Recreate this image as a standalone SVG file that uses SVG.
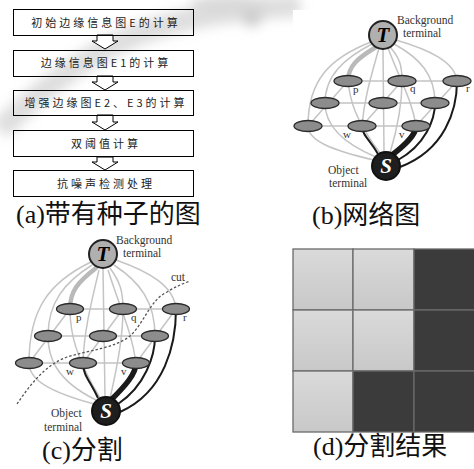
<svg xmlns="http://www.w3.org/2000/svg" width="474" height="469" viewBox="0 0 474 469">
<style>
.box{fill:none;stroke:#000;stroke-width:1}
.ft{font-family:"Noto Sans CJK SC","Liberation Serif",serif;font-size:11px;letter-spacing:3px;fill:#222;text-anchor:middle}
.harrow{fill:#fff;stroke:#000;stroke-width:1}
.cap{font-family:"Liberation Serif","Noto Sans CJK SC",serif;font-size:26px;fill:#111}
.g{fill:none;stroke:#c4c4c4;stroke-width:1.5}
.gt{fill:none;stroke:#b9b9b9;stroke-width:4.5;stroke-linecap:round}
.k{fill:none;stroke:#1a1a1a;stroke-width:2}
.kt{fill:none;stroke:#1a1a1a;stroke-width:5.5}
.nd{fill:#8c8c8c;stroke:#2a2a2a;stroke-width:1.3}
.tt{fill:#b0b0b0;stroke:#222;stroke-width:2}
.ss{fill:#1e1e1e;stroke:#111;stroke-width:2}
.lbl{font-family:"Liberation Serif",serif;font-size:11.5px;fill:#333}
.sl{font-family:"Liberation Serif",serif;font-size:11px;fill:#333}
.term{font-family:"Liberation Serif",serif;font-size:21px;font-weight:bold;font-style:italic;text-anchor:middle}
.lt{fill:url(#lg);stroke:#6a6a6a;stroke-width:1.3}
.dk{fill:#3b3b3b;stroke:#6a6a6a;stroke-width:1.3}
</style>
<defs>
<linearGradient id="lg" x1="0" y1="0" x2="0" y2="1"><stop offset="0" stop-color="#dadada"/><stop offset="1" stop-color="#c8c8c8"/></linearGradient>
<filter id="blur" x="-20%" y="-50%" width="140%" height="200%"><feGaussianBlur stdDeviation="6"/></filter>
</defs>
<rect width="474" height="469" fill="#fff"/>
<!-- faint watermark -->
<g id="watermark" filter="url(#blur)" opacity="0.5">
<path d="M0,130 C40,90 90,50 150,30 C200,14 250,8 300,6" fill="none" stroke="#bdbdbd" stroke-width="22"/>
<ellipse cx="252" cy="18" rx="10" ry="9" fill="#9a9a9a"/>
<ellipse cx="230" cy="4" rx="40" ry="8" fill="#b0b0b0"/>
</g>
<rect x="293" y="10" width="181" height="190" fill="#fff"/>

<!-- (a) flowchart -->
<g id="flow-arrows">
<polygon class="harrow" points="97,35 97,41 92,41 105,49 118,41 113,41 113,35"/>
<polygon class="harrow" points="97,76 97,82 92,82 105,90 118,82 113,82 113,76"/>
<polygon class="harrow" points="97,115 97,122 92,122 105,130 118,122 113,122 113,115"/>
<polygon class="harrow" points="97,157 97,162 92,162 105,170 118,162 113,162 113,157"/>
</g>
<g id="box1"><rect class="box" x="13.5" y="9.5" width="180" height="26"/><text class="ft" x="106" y="27">初始边缘信息图E的计算</text></g>
<g id="box2"><rect class="box" x="13.5" y="50.5" width="180" height="26"/><text class="ft" x="106" y="67">边缘信息图E1的计算</text></g>
<g id="box3"><rect class="box" x="13.5" y="90.5" width="180" height="25"/><text class="ft" x="106" y="107">增强边缘图E2、E3的计算</text></g>
<g id="box4"><rect class="box" x="13.5" y="130.5" width="180" height="26"/><text class="ft" x="106" y="148">双阈值计算</text></g>
<g id="box5"><rect class="box" x="13.5" y="170.5" width="180" height="26"/><text class="ft" x="106" y="188">抗噪声检测处理</text></g>
<text class="cap" x="16" y="223">(a)带有种子的图</text>

<!-- (b) graph -->
<g id="b-connectors">
<path class="g" d="M348,81 L457,81 M325,103 L435,103 M308,126 L416,126 M348,81 L308,126 M402,81 L362,126 M457,81 L416,126"/>
<path class="g" d="M371,42 C330,58 308,80 308,126"/>
<path class="g" d="M372,44 C345,58 325,75 325,103"/>
<path class="g" d="M379,48 C370,80 364,100 362,126"/>
<path class="g" d="M383,49 L384,152"/>
<path class="g" d="M390,47 C400,58 402,66 402,81"/>
<path class="g" d="M388,48 C400,80 412,100 416,126"/>
<path class="g" d="M394,44 C420,58 435,75 435,103"/>
<path class="g" d="M396,40 C430,50 455,62 457,81"/>
<path class="gt" d="M376,47 C358,58 348,66 348,81"/>
<path class="g" d="M374,160 C330,150 308,140 308,126"/>
<path class="g" d="M376,157 C335,140 325,120 325,103"/>
<path class="g" d="M380,153 C355,120 350,100 348,81"/>
<path class="g" d="M390,153 C400,120 402,100 402,81"/>
<path class="k" d="M378,154 C370,140 362,135 362,126"/>
<path class="kt" d="M392,155 C405,145 416,135 416,126"/>
<path class="k" d="M398,160 C425,145 435,120 435,103"/>
<path class="k" d="M400,167 C445,150 457,110 457,81"/>
</g>
<g id="b-T"><circle class="tt" cx="383" cy="35" r="14"/><text class="term" x="383" y="42">T</text></g>
<g id="b-S"><circle class="ss" cx="386" cy="166" r="14"/><text class="term" x="386" y="173" fill="#fff">S</text></g>
<g id="b-p"><ellipse class="nd" cx="348" cy="81" rx="14" ry="5.5"/></g>
<g id="b-q"><ellipse class="nd" cx="402" cy="81" rx="14" ry="5.5"/></g>
<g id="b-r"><ellipse class="nd" cx="457" cy="81" rx="14" ry="5.5"/></g>
<g id="b-n21"><ellipse class="nd" cx="325" cy="103" rx="14" ry="5.5"/></g>
<g id="b-n22"><ellipse class="nd" cx="383" cy="103" rx="14" ry="5.5"/></g>
<g id="b-n23"><ellipse class="nd" cx="435" cy="103" rx="14" ry="5.5"/></g>
<g id="b-n31"><ellipse class="nd" cx="308" cy="126" rx="14" ry="5.5"/></g>
<g id="b-w"><ellipse class="nd" cx="362" cy="126" rx="14" ry="5.5"/></g>
<g id="b-v"><ellipse class="nd" cx="416" cy="126" rx="14" ry="5.5"/></g>
<g id="b-labels">
<text class="lbl" x="397" y="24">Background</text>
<text class="lbl" x="403" y="37">terminal</text>
<text class="lbl" x="328" y="174">Object</text>
<text class="lbl" x="329" y="187">terminal</text>
<text class="sl" x="353" y="93">p</text>
<text class="sl" x="410" y="92">q</text>
<text class="sl" x="466" y="92">r</text>
<text class="sl" x="343" y="138">w</text>
<text class="sl" x="399" y="138">v</text>
</g>
<text class="cap" x="312" y="224">(b)网络图</text>

<!-- (c) segmentation -->
<g id="c-connectors">
<path class="g" d="M70,309 L176,309 M48,336 L155,336 M29,363 L136,363 M70,309 L29,363 M123,309 L83,363 M176,309 L136,363"/>
<path class="g" d="M91,262 C50,282 29,308 29,363"/>
<path class="g" d="M92,265 C65,282 48,302 48,336"/>
<path class="g" d="M99,270 C90,308 84,332 83,363"/>
<path class="g" d="M103,268 L105,397"/>
<path class="g" d="M110,268 C120,282 123,291 123,309"/>
<path class="g" d="M108,270 C120,308 132,332 136,363"/>
<path class="g" d="M114,265 C140,282 155,302 155,336"/>
<path class="g" d="M116,260 C150,272 174,286 176,309"/>
<path class="gt" d="M96,268 C78,282 70,291 70,309"/>
<path class="g" d="M94,404 C50,392 29,380 29,363"/>
<path class="g" d="M96,400 C55,380 48,356 48,336"/>
<path class="g" d="M100,398 C75,356 70,332 70,309"/>
<path class="g" d="M110,398 C120,356 123,332 123,309"/>
<path class="k" d="M98,398 C90,381 83,375 83,363"/>
<path class="kt" d="M112,399 C125,386 136,374 136,363"/>
<path class="k" d="M118,404 C145,386 155,356 155,336"/>
<path class="k" d="M120,412 C165,392 176,344 176,309"/>
<path d="M17,404 C30,385 45,365 67,357 C90,350 115,348 130,336 C145,322 150,300 167,292 C175,287 182,284 190,281" fill="none" stroke="#555" stroke-width="1.3" stroke-dasharray="2.5,2"/>
</g>
<g id="c-T"><circle class="tt" cx="103" cy="254" r="14"/><text class="term" x="103" y="261">T</text></g>
<g id="c-S"><circle class="ss" cx="106" cy="411" r="14"/><text class="term" x="106" y="418" fill="#fff">S</text></g>
<g id="c-p"><ellipse class="nd" cx="70" cy="309" rx="13.5" ry="5.5"/></g>
<g id="c-q"><ellipse class="nd" cx="123" cy="309" rx="13.5" ry="5.5"/></g>
<g id="c-r"><ellipse class="nd" cx="176" cy="309" rx="13.5" ry="5.5"/></g>
<g id="c-n21"><ellipse class="nd" cx="48" cy="336" rx="13.5" ry="5.5"/></g>
<g id="c-n22"><ellipse class="nd" cx="103" cy="336" rx="13.5" ry="5.5"/></g>
<g id="c-n23"><ellipse class="nd" cx="155" cy="336" rx="13.5" ry="5.5"/></g>
<g id="c-n31"><ellipse class="nd" cx="29" cy="363" rx="13.5" ry="5.5"/></g>
<g id="c-w"><ellipse class="nd" cx="83" cy="363" rx="13.5" ry="5.5"/></g>
<g id="c-v"><ellipse class="nd" cx="136" cy="363" rx="13.5" ry="5.5"/></g>
<g id="c-labels">
<text class="lbl" x="116" y="244">Background</text>
<text class="lbl" x="123" y="257">terminal</text>
<text class="lbl" x="171" y="281">cut</text>
<text class="lbl" x="51" y="417">Object</text>
<text class="lbl" x="44" y="431">terminal</text>
<text class="sl" x="76" y="321">p</text>
<text class="sl" x="131" y="321">q</text>
<text class="sl" x="183" y="321">r</text>
<text class="sl" x="66" y="375">w</text>
<text class="sl" x="121" y="375">v</text>
</g>
<text class="cap" x="42" y="459">(c)分割</text>

<!-- (d) result grid -->
<g id="d-grid">
<rect class="lt" x="293" y="249" width="60" height="61"/>
<rect class="lt" x="353" y="249" width="61" height="61"/>
<rect class="dk" x="414" y="249" width="62" height="61"/>
<rect class="lt" x="293" y="310" width="60" height="61"/>
<rect class="lt" x="353" y="310" width="61" height="61"/>
<rect class="dk" x="414" y="310" width="62" height="61"/>
<rect class="lt" x="293" y="371" width="60" height="61"/>
<rect class="dk" x="353" y="371" width="61" height="61"/>
<rect class="dk" x="414" y="371" width="62" height="61"/>
</g>
<text class="cap" x="313" y="455">(d)分割结果</text>
</svg>
